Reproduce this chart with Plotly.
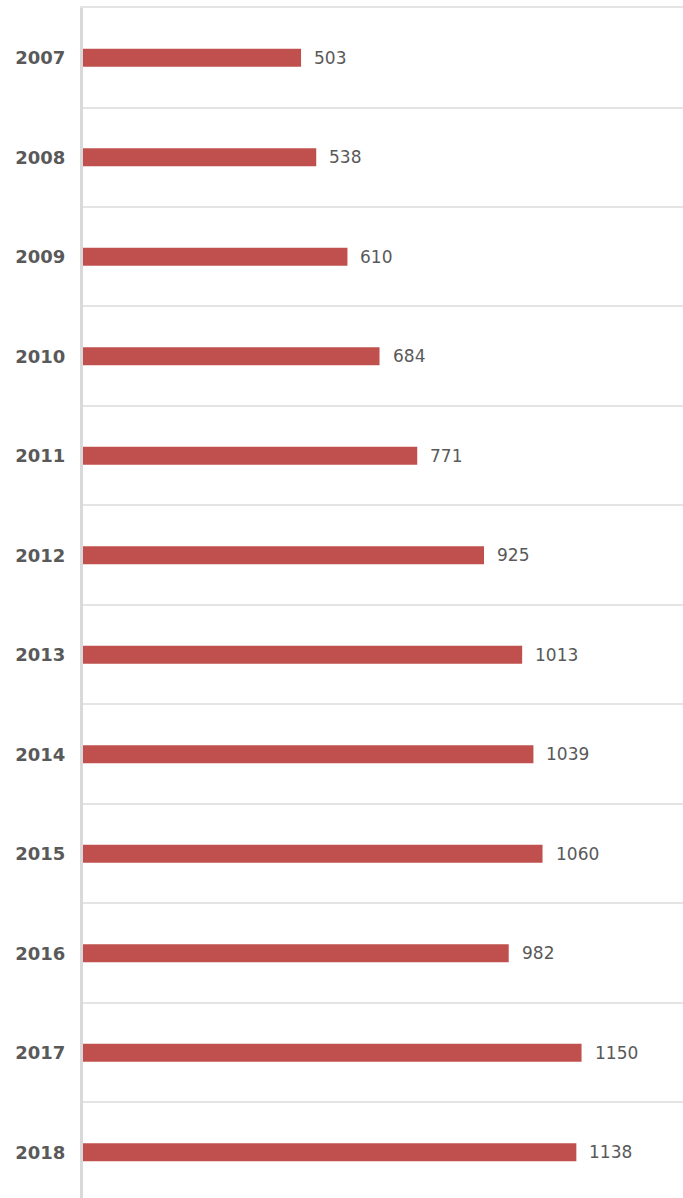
import plotly.graph_objects as go

years = ["2007", "2008", "2009", "2010", "2011", "2012",
         "2013", "2014", "2015", "2016", "2017", "2018"]
values = [503, 538, 610, 684, 771, 925, 1013, 1039, 1060, 982, 1150, 1138]

bar_color = "#c0504d"
text_color = "#595959"

fig = go.Figure()

fig.add_trace(go.Bar(
    x=values,
    y=years,
    orientation="h",
    marker=dict(color=bar_color, line=dict(width=0)),
    showlegend=False,
    hoverinfo="x+y",
))

# étiquettes de valeur à droite des barres (y = indice de catégorie)
for i, v in enumerate(values):
    fig.add_annotation(
        x=v, y=i, text=str(v),
        xref="x", yref="y",
        xanchor="left", yanchor="middle",
        xshift=11, showarrow=False,
        font=dict(family="DejaVu Sans", size=17, color=text_color),
    )

fig.update_layout(
    width=683,
    height=1198,
    margin=dict(l=83, r=0, t=8, b=0),
    paper_bgcolor="white",
    plot_bgcolor="white",
    bargap=0.82,
    xaxis=dict(
        range=[0, 1384],
        side="top",
        showline=True,          # bordure haute du graphique
        linecolor="#e4e4e4",
        linewidth=2,
        showgrid=False,
        zeroline=False,
        ticks="",
        showticklabels=False,
        fixedrange=True,
    ),
    yaxis=dict(
        type="category",
        categoryorder="array",
        categoryarray=years,
        range=[11.46, -0.5],
        tickson="boundaries",
        ticks="",
        showgrid=True,
        gridcolor="#e4e4e4",
        gridwidth=2,
        showline=True,
        linecolor="#d9d9d9",
        linewidth=3,
        zeroline=False,
        ticklabelstandoff=11,
        tickfont=dict(family="DejaVu Sans", size=18, color=text_color, weight="bold"),
    ),
)

# pas de marge de page autour de la figure, pas de barre d'outils
fig.write_html(
    "out.html",
    config={"displayModeBar": False},
    post_script="document.body.style.margin = '0';",
)
